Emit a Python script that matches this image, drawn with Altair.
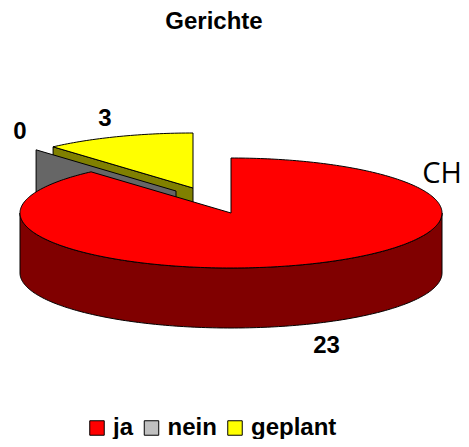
import math
import altair as alt
import pandas as pd

categories = ["ja", "nein", "geplant"]
values = [23, 0, 3]
legend_colors = ["#FF0000", "#C0C0C0", "#FFFF00"]
chart_title = "Gerichte"
series_name = "CH"

W, H = 453, 431
CX, CY, RX, RY, DEPTH = 223, 205, 211, 55, 60
NEIN_OFF = (-55, -22)
GEPLANT_OFF = (-38, -25)
total = sum(values)


def pt(a_deg, off=(0, 0), dy=0):
    a = math.radians(a_deg)
    return (CX + off[0] + RX * math.sin(a), CY + off[1] - RY * math.cos(a) + dy)


def arc(a0, a1, off=(0, 0), dy=0):
    n = max(2, int(abs(a1 - a0)))
    return [pt(a0 + (a1 - a0) * i / n, off, dy) for i in range(n + 1)]


red_end = 360 * values[0] / total
gray_a = red_end
yellow_end = gray_a + 360 * values[2] / total


def apex(off=(0, 0), dy=0):
    return (CX + off[0], CY + off[1] + dy)


polys = []
polys.append(("#808000", [apex(GEPLANT_OFF), pt(gray_a, GEPLANT_OFF), pt(gray_a, GEPLANT_OFF, DEPTH), apex(GEPLANT_OFF, DEPTH)]))
polys.append(("#666666", [apex(NEIN_OFF), pt(gray_a, NEIN_OFF), pt(gray_a, NEIN_OFF, DEPTH), apex(NEIN_OFF, DEPTH)]))
polys.append(("#FFFF00", [apex(GEPLANT_OFF)] + arc(gray_a, yellow_end, GEPLANT_OFF)))
polys.append(("#800000", arc(90, 270) + arc(270, 90, dy=DEPTH)))
polys.append(("#FF0000", [apex()] + arc(0, red_end)))

xs = alt.Scale(domain=[0, W], range=[0, W], nice=False, zero=False)
ys = alt.Scale(domain=[0, H], range=[0, H], nice=False, zero=False)
X = alt.X("x:Q", scale=xs, axis=None)
Y = alt.Y("y:Q", scale=ys, axis=None)

layers = []
for color, p in polys:
    p = p + [p[0]]
    df = pd.DataFrame({"x": [q[0] for q in p], "y": [q[1] for q in p], "i": range(len(p))})
    layers.append(
        alt.Chart(df)
        .mark_line(fill=color, stroke="black", strokeWidth=1, strokeJoin="miter", interpolate="linear")
        .encode(x=X, y=Y, order="i:Q")
    )

labels = pd.DataFrame(
    {
        "t": [str(values[0]), str(values[1]), str(values[2])],
        "x": [318.5, 12, 97],
        "y": [338, 123.5, 110.5],
    }
)
text_bold = (
    alt.Chart(labels)
    .mark_text(font="Liberation Sans", fontWeight="bold", fontSize=24, color="black")
    .encode(x=X, y=Y, text="t:N")
)
title_t = (
    alt.Chart(pd.DataFrame({"t": [chart_title], "x": [206], "y": [13.5]}))
    .mark_text(font="Liberation Sans", fontWeight="bold", fontSize=24, color="black")
    .encode(x=X, y=Y, text="t:N")
)
series_t = (
    alt.Chart(pd.DataFrame({"t": [series_name], "x": [434], "y": [166]}))
    .mark_text(font="Open Sans", fontSize=29, color="black")
    .encode(x=X, y=Y, text="t:N")
)
legend_layer = (
    alt.Chart(pd.DataFrame({"c": categories, "x": [100, 200, 300], "y": [400, 400, 400]}))
    .mark_point(filled=True, shape="square", size=0)
    .encode(
        x=X,
        y=Y,
        color=alt.Color(
            "c:N",
            scale=alt.Scale(domain=categories, range=legend_colors),
            sort=categories,
            legend=alt.Legend(
                orient="none",
                legendX=77,
                legendY=408,
                direction="horizontal",
                title=None,
                symbolType="square",
                symbolSize=210,
                symbolStrokeColor="black",
                symbolStrokeWidth=1,
                symbolOpacity=1,
                labelFont="Liberation Sans",
                labelFontWeight="bold",
                labelFontSize=24,
                labelColor="black",
                columnPadding=5.5,
                labelOffset=4,
            ),
        ),
    )
)

chart = (
    alt.layer(*layers, text_bold, title_t, series_t, legend_layer)
    .properties(width=W, height=H, padding=0, background="white", autosize=alt.AutoSizeParams(type="none"))
    .configure_view(stroke=None)
)
chart.save("out.html", embed_options={"renderer": "svg", "actions": False})
